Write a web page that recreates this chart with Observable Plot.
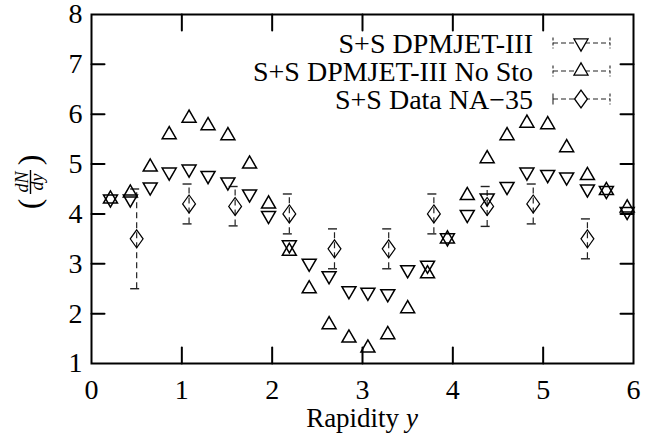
<!DOCTYPE html>
<html>
<head>
<meta charset="utf-8">
<script src="https://cdn.jsdelivr.net/npm/d3@7"></script>
<script src="https://cdn.jsdelivr.net/npm/@observablehq/plot@0.6"></script>
<style>
  html, body { margin: 0; padding: 0; background: #fff; }
  #chart { width: 656px; height: 434px; }
  #chart svg, #chart svg text { font-family: "Liberation Serif", "Times New Roman", Times, "DejaVu Serif", serif !important; }
</style>
</head>
<body>
<div id="chart"></div>
<script>
// ---- data ----
const simX   = [0.21, 0.43, 0.65, 0.86, 1.08, 1.29, 1.51, 1.75, 1.96, 2.19, 2.41, 2.63, 2.85, 3.06,
                3.28, 3.50, 3.72, 3.94, 4.16, 4.38, 4.60, 4.82, 5.05, 5.26, 5.49, 5.70, 5.93];
const dpmjet = [4.30, 4.30, 4.54, 4.84, 4.90, 4.77, 4.64, 4.40, 3.97, 3.38, 3.01, 2.76, 2.46, 2.43,
                2.40, 2.88, 2.97, 3.52, 3.99, 4.32, 4.55, 4.84, 4.79, 4.74, 4.50, 4.47, 4.05];
const noSto  = [4.30, 4.42, 4.94, 5.59, 5.92, 5.77, 5.57, 5.00, 4.20, 3.25, 2.50, 1.78, 1.51, 1.31,
                1.58, 2.10, 2.80, 3.50, 4.37, 5.11, 5.57, 5.82, 5.79, 5.33, 4.77, 4.47, 4.12];
const naX    = [0.50, 1.08, 1.59, 2.19, 2.69, 3.29, 3.79, 4.38, 4.89, 5.49];
const naY    = [3.50, 4.20, 4.15, 4.00, 3.30, 3.30, 4.00, 4.15, 4.20, 3.50];
const naLo   = [2.50, 3.80, 3.76, 3.60, 2.90, 2.90, 3.60, 3.75, 3.80, 3.10];
const naHi   = [4.50, 4.60, 4.55, 4.40, 3.70, 3.70, 4.40, 4.55, 4.60, 3.90];
const xTicks = [0, 1, 2, 3, 4, 5, 6];
const yTicks = [1, 2, 3, 4, 5, 6, 7, 8];
const legendLabels = ["S+S DPMJET-III", "S+S DPMJET-III No Sto", "S+S Data NA\u221235"];

// ---- derived tables ----
const dpmRows = simX.map((x, i) => ({x, y: dpmjet[i]}));
const nsRows  = simX.map((x, i) => ({x, y: noSto[i]}));
const naRows  = naX.map((x, i) => ({x, y: naY[i], lo: naLo[i], hi: naHi[i]}));
const xInner = xTicks.slice(1, -1);
const yInner = yTicks.slice(1, -1);

// ---- custom symbols ----
const triDown = {draw(ctx, size) {
  const y = Math.sqrt(size / (Math.sqrt(3) * 3));
  ctx.moveTo(0, 2 * y); ctx.lineTo(-Math.sqrt(3) * y, -y); ctx.lineTo(Math.sqrt(3) * y, -y); ctx.closePath();
}};
const triUp = {draw(ctx, size) {
  const y = Math.sqrt(size / (Math.sqrt(3) * 3));
  ctx.moveTo(0, -2 * y); ctx.lineTo(-Math.sqrt(3) * y, y); ctx.lineTo(Math.sqrt(3) * y, y); ctx.closePath();
}};
const diamond = {draw(ctx, size) {
  const s = Math.sqrt(size), hh = s * 0.92, hw = s * 0.66;
  ctx.moveTo(0, -hh); ctx.lineTo(hw, 0); ctx.lineTo(0, hh); ctx.lineTo(-hw, 0); ctx.closePath();
}};
const cap = {draw(ctx) { ctx.moveTo(-6.5, 0); ctx.lineTo(6.5, 0); }};
const tickShape = {draw(ctx, l) { ctx.moveTo(0, 0); ctx.lineTo(0, -l); }};

const FONT = "Liberation Serif, Times New Roman, Times, DejaVu Serif, serif";

const chart = Plot.plot({
  width: 656, height: 434,
  marginLeft: 91, marginRight: 23, marginTop: 14, marginBottom: 71,
  x: {domain: [0, 6]},
  y: {domain: [1, 8]},
  style: {fontFamily: FONT, fontSize: "28px", background: "white", color: "black", overflow: "visible"},
  marks: [
    // NA-35 error bars
    Plot.ruleX(naRows, {x: "x", y1: "lo", y2: "hi", stroke: "#222", strokeWidth: 1.2, strokeDasharray: "6,4"}),
    Plot.dot(naRows, {x: "x", y: "lo", symbol: cap, r: 3, stroke: "#222", strokeWidth: 1.4, strokeDasharray: "9,4"}),
    Plot.dot(naRows, {x: "x", y: "hi", symbol: cap, r: 3, stroke: "#222", strokeWidth: 1.4, strokeDasharray: "9,4"}),
    // markers
    Plot.dot(dpmRows, {x: "x", y: "y", symbol: triDown, r: 5.2, stroke: "black", fill: "none", strokeWidth: 1.5}),
    Plot.dot(nsRows,  {x: "x", y: "y", symbol: triUp,   r: 5.2, stroke: "black", fill: "none", strokeWidth: 1.5}),
    Plot.dot(naRows,  {x: "x", y: "y", symbol: diamond, r: 5.5, stroke: "black", fill: "none", strokeWidth: 1.2}),
    // inward ticks (mirrored)
    Plot.vector(xInner, {x: d => d, y: 1, length: 16, rotate: 0,   anchor: "start", shape: tickShape, stroke: "black", strokeWidth: 2}),
    Plot.vector(xInner, {x: d => d, y: 8, length: 16, rotate: 180, anchor: "start", shape: tickShape, stroke: "black", strokeWidth: 2}),
    Plot.vector(yInner, {x: 0, y: d => d, length: 13, rotate: 90,  anchor: "start", shape: tickShape, stroke: "black", strokeWidth: 2}),
    Plot.vector(yInner, {x: 6, y: d => d, length: 13, rotate: -90, anchor: "start", shape: tickShape, stroke: "black", strokeWidth: 2}),
    Plot.frame({stroke: "black", strokeWidth: 2}),
    Plot.axisX(xTicks, {tickSize: 0, tickPadding: 16, label: null, fontSize: 28, tickFormat: d3.format("d")}),
    Plot.axisY(yTicks, {tickSize: 0, tickPadding: 9, label: null, fontSize: 28, tickFormat: d3.format("d")})
  ]
});

document.getElementById("chart").appendChild(chart);

// ---- annotations: axis titles and legend ----
const svg = d3.select(chart);
const left = 91, right = 656 - 23;

// x-axis title
const xt = svg.append("text")
  .attr("x", (left + right) / 2).attr("y", 427)
  .attr("text-anchor", "middle")
  .style("font-size", "27px").attr("fill", "black");
xt.append("tspan").text("Rapidity ");
xt.append("tspan").style("font-style", "italic").text("y");

// y-axis title (dN/dy)
const yg = svg.append("g").attr("transform", "translate(31,182) rotate(-90)").attr("fill", "black");
yg.append("text").attr("x", -22).attr("y", 9).attr("text-anchor", "middle").style("font-size", "32px").text("(");
yg.append("text").attr("x", 22).attr("y", 9).attr("text-anchor", "middle").style("font-size", "32px").text(")");
yg.append("text").attr("x", 0).attr("y", -3).attr("text-anchor", "middle").style("font-size", "18px").style("font-style", "italic").text("dN");
yg.append("text").attr("x", 0).attr("y", 12).attr("text-anchor", "middle").style("font-size", "18px").style("font-style", "italic").text("dy");
yg.append("line").attr("x1", -12).attr("x2", 12).attr("y1", -0.5).attr("y2", -0.5).attr("stroke", "black").attr("stroke-width", 1.4);

// legend
const rowsY = [43, 71, 99];
const syms = [triDown, triUp, diamond];
const symR = [5.2, 5.2, 5.5];
const lg = svg.append("g");
legendLabels.forEach((lab, i) => {
  const cy = rowsY[i];
  lg.append("text").attr("x", 533).attr("y", cy + 10).attr("text-anchor", "end")
    .style("font-size", "28px").attr("fill", "black").text(lab);
  lg.append("line").attr("x1", 553).attr("x2", 610).attr("y1", cy).attr("y2", cy)
    .attr("stroke", "#222").attr("stroke-width", 1.1).attr("stroke-dasharray", "5,3");
  lg.append("line").attr("x1", 553).attr("x2", 553).attr("y1", cy - 5.5).attr("y2", cy + 5.5)
    .attr("stroke", "#222").attr("stroke-width", 1.1).attr("stroke-dasharray", i === 2 ? null : "3,2");
  lg.append("line").attr("x1", 610).attr("x2", 610).attr("y1", cy - 5.5).attr("y2", cy + 5.5)
    .attr("stroke", "#222").attr("stroke-width", 1.1).attr("stroke-dasharray", "3,2");
  const p = d3.path();
  syms[i].draw(p, Math.PI * symR[i] * symR[i]);
  lg.append("path").attr("d", p.toString()).attr("transform", `translate(581,${cy})`)
    .attr("fill", "white").attr("stroke", "black").attr("stroke-width", 1.3);
});
</script>
</body>
</html>
